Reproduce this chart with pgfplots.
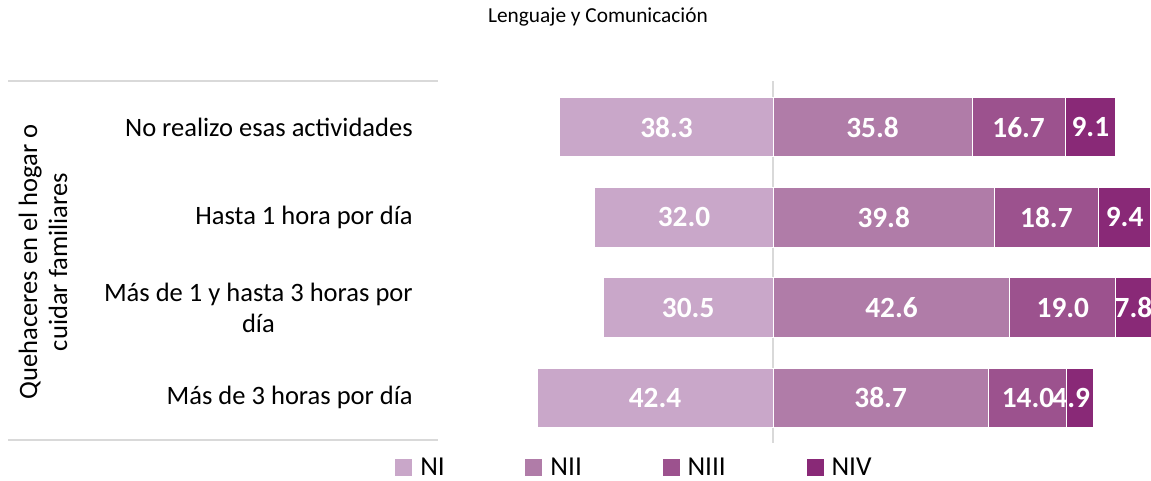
\documentclass[border=0pt]{standalone}
\usepackage{pgfplots}
\pgfplotsset{compat=1.18}
\usepackage{fontspec}
\setmainfont{Carlito}
\definecolor{cNI}{HTML}{C9A7C9}
\definecolor{cNII}{HTML}{B07CA8}
\definecolor{cNIII}{HTML}{9C528E}
\definecolor{cNIV}{HTML}{892977}
\definecolor{gline}{HTML}{D9D9D9}
\pgfplotsset{
  base/.style={
    scale only axis, width=534.75pt, height=270.75pt,
    at={(328.5pt,27.75pt)}, anchor=south west,
    xmin=-60.22, xmax=67.95, ymin=-0.5, ymax=3.5,
    axis line style={draw=none}, major tick length=0pt, tick style={draw=none},
    xtick=\empty, ytick=\empty,
  },
  sq legend/.style={legend image code/.code={\fill[##1, draw=none] (0pt,-6.375pt) rectangle (12.75pt,6.375pt);}},
}
\begin{document}
\begin{tikzpicture}
\useasboundingbox (0,0) rectangle (863.25pt,360pt);
\fill[white] (0,0) rectangle (863.25pt,360pt);
\draw[gline, line width=1.5pt] (6pt,299.25pt) -- (328.5pt,299.25pt);
\draw[gline, line width=1.5pt] (6pt,30pt) -- (328.5pt,30pt);
\draw[gline, line width=1.5pt] (579.75pt,299.25pt) -- (579.75pt,27.75pt);
\node[font=\fontsize{16pt}{19pt}\selectfont] at (448.5pt,347.25pt) {Lenguaje y Comunicación};
\node[rotate=90, align=center, font=\fontsize{19.9pt}{22.5pt}\selectfont] at (32.25pt,163.5pt) {Quehaceres en el hogar o\\cuidar familiares};

\begin{axis}[base, xbar, bar width=0.66, bar shift=0pt]
\addplot[fill=cNI, draw=white, line width=0.75pt] coordinates {(-38.3,3) (-32.0,2) (-30.5,1) (-42.4,0)};
\end{axis}

\begin{axis}[base, xbar stacked, bar width=0.66,
  ytick={0,1,2,3},
  yticklabels={Más de 3 horas por día, {Más de 1 y hasta 3 horas por\\día}, Hasta 1 hora por día, No realizo esas actividades},
  yticklabel style={font=\fontsize{19.9pt}{23.25pt}\selectfont, align=center, inner sep=0pt, xshift=-18.75pt},
  legend columns=4,
  legend style={at={(-0.0603,-0.069)}, anchor=west, draw=none, fill=none, inner sep=0pt,
    font=\fontsize{20.5pt}{23pt}\selectfont,
    nodes={inner sep=1pt},
    /tikz/every odd column/.append style={column sep=5pt},
    /tikz/every even column/.append style={column sep=59.5pt}},
]
\addlegendimage{sq legend, fill=cNI}
\addlegendentry{NI}
\addplot[fill=cNII, draw=white, line width=0.75pt, sq legend] coordinates {(35.8,3) (39.8,2) (42.6,1) (38.7,0)};
\addlegendentry{NII}
\addplot[fill=cNIII, draw=white, line width=0.75pt, sq legend] coordinates {(16.7,3) (18.7,2) (19.0,1) (14.0,0)};
\addlegendentry{NIII}
\addplot[fill=cNIV, draw=white, line width=0.75pt, sq legend] coordinates {(9.1,3) (9.4,2) (7.8,1) (4.9,0)};
\addlegendentry{NIV}
\end{axis}

\begin{axis}[base, clip=false]
\addplot[draw=none, nodes near coords, point meta=explicit symbolic,
  nodes near coords style={anchor=center, text=white, font=\bfseries\fontsize{22pt}{26pt}\selectfont}]
  coordinates {
  (-19.15,3) [38.3] (17.9,3) [35.8] (44.15,3) [16.7] (57.05,3) [9.1]
  (-16.0,2) [32.0] (19.9,2) [39.8] (49.15,2) [18.7] (63.2,2) [9.4]
  (-15.25,1) [30.5] (21.3,1) [42.6] (52.1,1) [19.0] (64.8,1) [7.8]
  (-21.2,0) [42.4] (19.35,0) [38.7] (45.84,0) [14.0] (53.6,0) [4.9]
  };
\end{axis}
\end{tikzpicture}
\end{document}
